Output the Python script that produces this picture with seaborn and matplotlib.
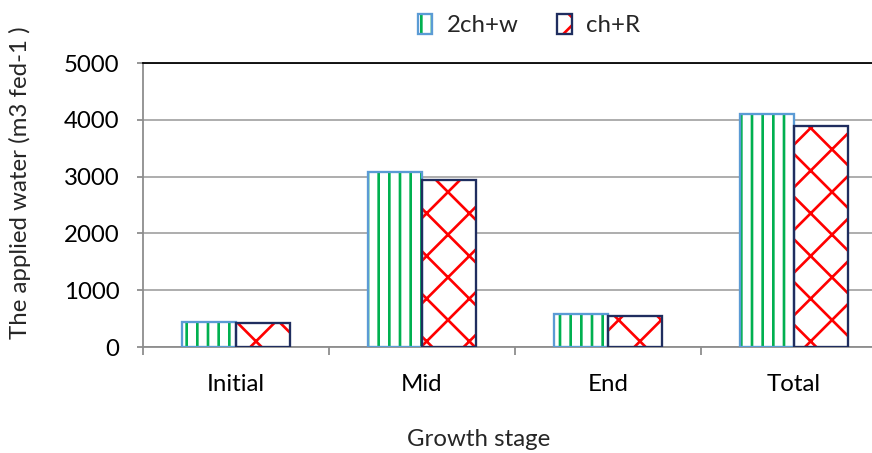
import matplotlib
matplotlib.use("Agg")
import matplotlib.pyplot as plt
from matplotlib.patches import Patch
from matplotlib.ticker import FixedLocator
import seaborn as sns
import pandas as pd

stages = ["Initial", "Mid", "End", "Total"]
series_names = ["2ch+w", "ch+R"]
values_2chw = [440, 3080, 580, 4100]
values_chR = [420, 2940, 550, 3890]
yticks = [0, 1000, 2000, 3000, 4000, 5000]

hatch_colors = {"2ch+w": "#00B050", "ch+R": "#FF0000"}
edge_colors = {"2ch+w": "#5B9BD5", "ch+R": "#1F2D5F"}
hatches = {"2ch+w": "||", "ch+R": "x"}

df = pd.DataFrame({
    "stage": stages * 2,
    "series": [series_names[0]] * 4 + [series_names[1]] * 4,
    "value": values_2chw + values_chR,
})

sns.set_theme(style="white")
FONT = ["Lato", "DejaVu Sans"]
plt.rcParams["font.family"] = FONT
plt.rcParams["hatch.linewidth"] = 1.5

FS = 13.5
DPI = 128
fig = plt.figure(figsize=(872 / DPI, 453 / DPI), dpi=DPI)
ax = fig.add_axes([143 / 872, 1 - 347 / 453, 1 - 143 / 872, (347 - 63) / 453])

# hatched fills
sns.barplot(data=df, x="stage", y="value", hue="series", order=stages,
            hue_order=series_names, palette={k: "white" for k in series_names},
            width=0.58, gap=0, linewidth=0, legend=False, ax=ax, zorder=2)
for cont, name in zip(ax.containers[:2], series_names):
    for p in cont.patches:
        p.set_hatch(hatches[name])
        p.set_edgecolor(hatch_colors[name])
        p.set_linewidth(0)
        p.set_facecolor("white")

# outlines
sns.barplot(data=df, x="stage", y="value", hue="series", order=stages,
            hue_order=series_names, palette=edge_colors, fill=False,
            width=0.58, gap=0, linewidth=1.3, legend=False, ax=ax, zorder=3)

ax.set_xlim(-0.5, -0.5 + 729 / 186)
ax.set_ylim(0, 5000)
ax.set_yticks(yticks)
ax.set_yticklabels([str(v) for v in yticks])

ax.yaxis.grid(True, color="#A6A6A6", linewidth=1.0, zorder=0)
ax.set_axisbelow(True)
ax.spines["right"].set_visible(False)
ax.spines["top"].set_visible(True)
ax.spines["top"].set_color("black")
ax.spines["top"].set_linewidth(1.0)
ax.spines["left"].set_color("#8C8C8C")
ax.spines["bottom"].set_color("#8C8C8C")
ax.spines["left"].set_linewidth(1.0)
ax.spines["bottom"].set_linewidth(1.0)

ax.tick_params(axis="y", which="major", left=True, length=3.4, width=1.0,
               color="#8C8C8C", labelsize=FS, labelcolor="black", pad=10)
ax.tick_params(axis="x", which="major", length=0, labelsize=FS,
               labelcolor="black", pad=15)
ax.xaxis.set_minor_locator(FixedLocator([-0.5, 0.5, 1.5, 2.5]))
ax.tick_params(axis="x", which="minor", bottom=True, length=4.5, width=1.0,
               color="#8C8C8C")

ax.set_xlabel("")
ax.set_ylabel("")
fig.text(479 / 872, 1 - 440 / 453, "Growth stage", fontsize=FS,
         ha="center", va="center", family=FONT)
fig.text(20 / 872, 1 - 183 / 453, "The applied water (m3 fed-1 )", fontsize=FS,
         rotation=90, ha="center", va="center", family=FONT)

handles = [Patch(facecolor="white", edgecolor=hatch_colors[n], hatch=hatches[n],
                 linewidth=0) for n in series_names]
outline_handles = [Patch(facecolor="none", edgecolor=edge_colors[n], linewidth=1.3)
                   for n in series_names]
leg = fig.legend([(h, o) for h, o in zip(handles, outline_handles)], series_names,
                 loc="center", bbox_to_anchor=(529 / 872, 1 - 25 / 453), ncol=2,
                 frameon=False, fontsize=FS, handlelength=0.6, handleheight=0.9,
                 handletextpad=0.6, columnspacing=1.6)

fig.savefig("out.png", dpi=DPI)
